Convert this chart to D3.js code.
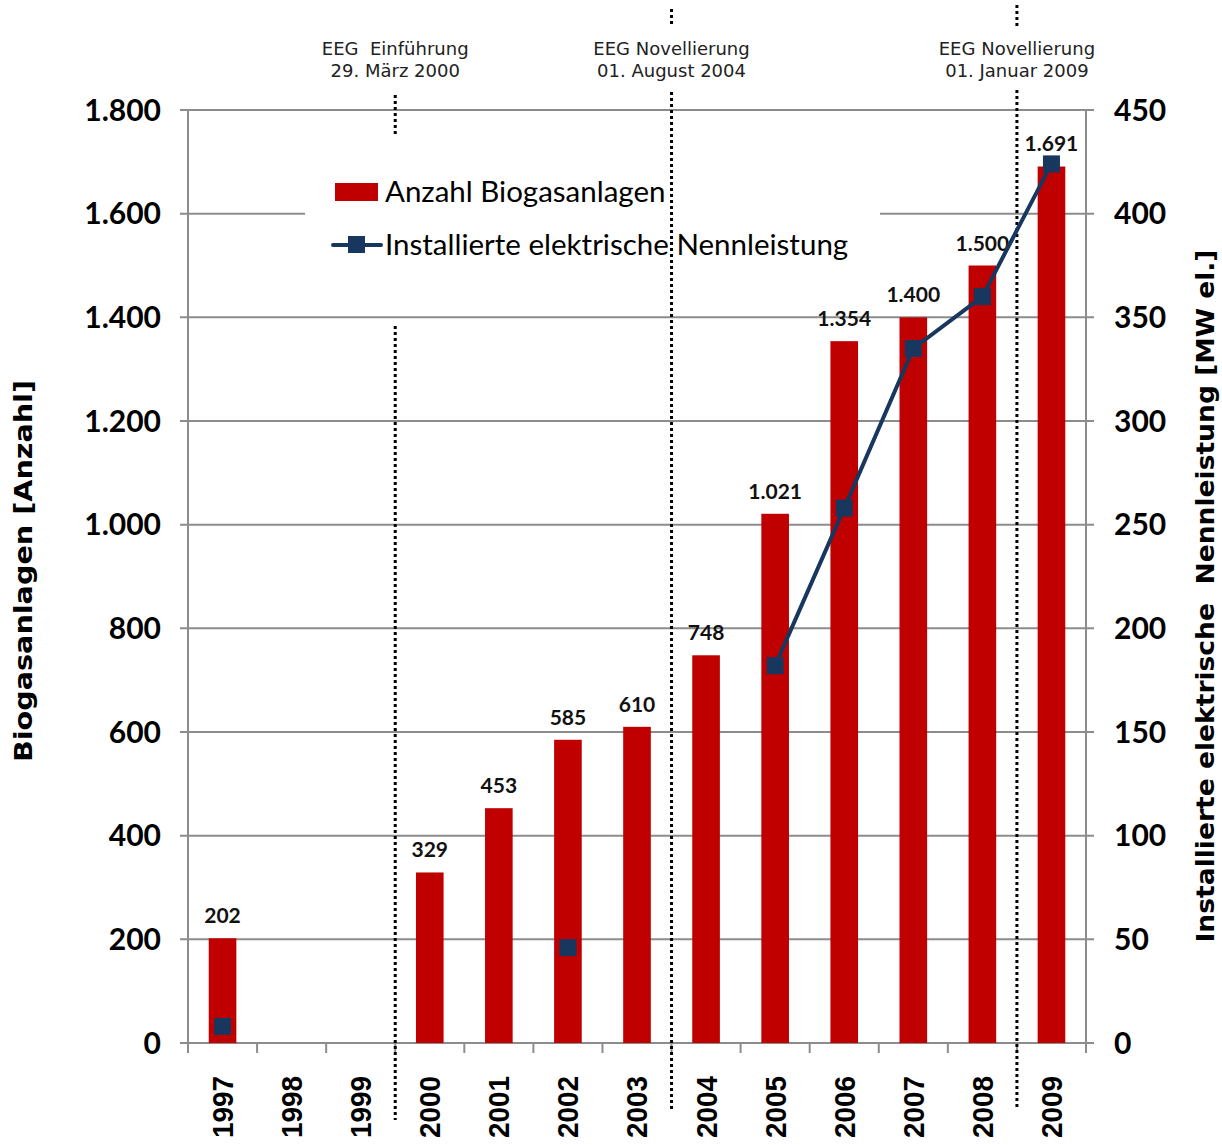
<!DOCTYPE html>
<html>
<head>
<meta charset="utf-8">
<script src="https://cdn.jsdelivr.net/npm/d3@7"></script>
<style>
  body { margin: 0; background: #fff; }
  svg { display: block; }
</style>
</head>
<body>
<svg id="chart" width="1222" height="1145"></svg>
<script>
// data
var years = ["1997","1998","1999","2000","2001","2002","2003","2004","2005","2006","2007","2008","2009"];
var anlagen = [202, null, null, 329, 453, 585, 610, 748, 1021, 1354, 1400, 1500, 1691];
var leistung = [8, null, null, null, null, 46, null, null, 182, 258, 335, 360, 424];
var leftTicks = [0, 200, 400, 600, 800, 1000, 1200, 1400, 1600, 1800];
var rightTicks = [0, 50, 100, 150, 200, 250, 300, 350, 400, 450];
var eegEvents = [
  {after: "1999", line1: "EEG  Einführung", line2: "29. März 2000"},
  {after: "2003", line1: "EEG Novellierung", line2: "01. August 2004"},
  {after: "2008", line1: "EEG Novellierung", line2: "01. Januar 2009"}
];

var pLeft = 188, pRight = 1086, pTop = 110, pBottom = 1043;
var svg = d3.select("#chart");
var fmt = function(v) { return d3.format(",")(v).replace(/,/g, "."); };

var x = d3.scaleBand().domain(years).range([pLeft, pRight]).paddingInner(0.6).paddingOuter(0.3);
var xb = d3.scaleBand().domain(years).range([pLeft, pRight]);
var yL = d3.scaleLinear().domain([0, 1800]).range([pBottom, pTop]);
var yR = d3.scaleLinear().domain([0, 450]).range([pBottom, pTop]);

// gridlines
svg.append("g").selectAll("line").data(leftTicks).enter().append("line")
  .attr("x1", pLeft - 8).attr("x2", pRight + 8)
  .attr("y1", function(d) { return yL(d); }).attr("y2", function(d) { return yL(d); })
  .attr("stroke", "#8c8c8c").attr("stroke-width", 2);

// axis lines
svg.append("line").attr("x1", pLeft).attr("x2", pLeft).attr("y1", pTop).attr("y2", pBottom)
  .attr("stroke", "#8c8c8c").attr("stroke-width", 2);
svg.append("line").attr("x1", pRight).attr("x2", pRight).attr("y1", pTop).attr("y2", pBottom)
  .attr("stroke", "#8c8c8c").attr("stroke-width", 2);
var bounds = years.map(function(y) { return xb(y); }).concat([pRight]);
svg.append("g").selectAll("line").data(bounds).enter().append("line")
  .attr("x1", function(d) { return d; }).attr("x2", function(d) { return d; })
  .attr("y1", pBottom).attr("y2", pBottom + 10)
  .attr("stroke", "#8c8c8c").attr("stroke-width", 2);

// dotted event lines
function evX(e) { return xb(e.after) + xb.bandwidth(); }
function dotted(sel, x0, y1, y2) {
  sel.append("line").attr("x1", x0).attr("x2", x0).attr("y1", y1).attr("y2", y2)
    .attr("stroke", "#000").attr("stroke-width", 3).attr("stroke-dasharray", "3,3");
}
dotted(svg, evX(eegEvents[0]), 95, 137);
dotted(svg, evX(eegEvents[0]), 326, 1120);

// legend box (covers the 1.600 gridline)
svg.append("rect").attr("x", 305).attr("y", 138).attr("width", 575).attr("height", 172).attr("fill", "#fff");

// bars
svg.append("g").selectAll("rect").data(years.filter(function(d, i) { return anlagen[i] != null; }))
  .enter().append("rect")
  .attr("x", function(d) { return x(d); })
  .attr("width", x.bandwidth())
  .attr("y", function(d) { return yL(anlagen[years.indexOf(d)]); })
  .attr("height", function(d) { return pBottom - yL(anlagen[years.indexOf(d)]); })
  .attr("fill", "#c00000");

dotted(svg, evX(eegEvents[1]), 92, 1112);
dotted(svg, evX(eegEvents[2]), 90, 1110);
dotted(svg, evX(eegEvents[1]), 9, 24);
dotted(svg, evX(eegEvents[2]), 5, 26);

// bar value labels
svg.append("g").selectAll("text").data(years.filter(function(d, i) { return anlagen[i] != null; }))
  .enter().append("text")
  .attr("x", function(d) { return x(d) + x.bandwidth() / 2; })
  .attr("y", function(d) { return yL(anlagen[years.indexOf(d)]) - 15; })
  .attr("text-anchor", "middle")
  .attr("font-family", "Lato, 'Open Sans', sans-serif").attr("font-weight", "bold").attr("font-size", 21)
  .attr("fill", "#111")
  .text(function(d) { return fmt(anlagen[years.indexOf(d)]); });

// line series
var pts = years.map(function(d, i) { return {year: d, v: leistung[i]}; });
var line = d3.line()
  .defined(function(d) { return d.v != null; })
  .x(function(d) { return x(d.year) + x.bandwidth() / 2; })
  .y(function(d) { return yR(d.v); });
svg.append("path").datum(pts).attr("d", line)
  .attr("fill", "none").attr("stroke", "#17375e").attr("stroke-width", 4);
svg.append("g").selectAll("rect").data(pts.filter(function(d) { return d.v != null; }))
  .enter().append("rect")
  .attr("x", function(d) { return x(d.year) + x.bandwidth() / 2 - 8.5; })
  .attr("y", function(d) { return yR(d.v) - 8.5; })
  .attr("width", 17).attr("height", 17)
  .attr("fill", "#17375e");

// tick labels
svg.append("g").selectAll("text").data(leftTicks).enter().append("text")
  .attr("x", 161).attr("y", function(d) { return yL(d); }).attr("dy", "0.36em")
  .attr("text-anchor", "end")
  .attr("font-family", "Lato, 'Open Sans', sans-serif").attr("font-weight", "bold").attr("font-size", 30)
  .attr("fill", "#000")
  .text(fmt);
svg.append("g").selectAll("text").data(rightTicks).enter().append("text")
  .attr("x", 1114).attr("y", function(d) { return yR(d); }).attr("dy", "0.36em")
  .attr("text-anchor", "start")
  .attr("font-family", "Lato, 'Open Sans', sans-serif").attr("font-weight", "bold").attr("font-size", 30)
  .attr("fill", "#000")
  .text(fmt);
svg.append("g").selectAll("text").data(years).enter().append("text")
  .attr("transform", function(d) { return "translate(" + (x(d) + x.bandwidth() / 2) + ",1076) rotate(-90)"; })
  .attr("dy", "0.36em")
  .attr("text-anchor", "end")
  .attr("font-family", "'Liberation Sans', Arial, sans-serif").attr("font-weight", "bold").attr("font-size", 29)
  .attr("textLength", 62).attr("lengthAdjust", "spacingAndGlyphs")
  .attr("fill", "#000")
  .text(function(d) { return d; });

// axis titles
svg.append("text")
  .attr("transform", "translate(32,571) rotate(-90)")
  .attr("text-anchor", "middle")
  .attr("font-family", "'DejaVu Sans', Verdana, sans-serif").attr("font-weight", "bold").attr("font-size", 25)
  .attr("textLength", 382).attr("lengthAdjust", "spacingAndGlyphs")
  .text("Biogasanlagen [Anzahl]");
svg.append("text")
  .attr("transform", "translate(1214,596) rotate(-90)")
  .attr("text-anchor", "middle")
  .attr("font-family", "'DejaVu Sans', Verdana, sans-serif").attr("font-weight", "bold").attr("font-size", 25)
  .attr("textLength", 693).attr("lengthAdjust", "spacingAndGlyphs")
  .attr("xml:space", "preserve")
  .text("Installierte elektrische  Nennleistung [MW el.]");

// event annotations
var ann = svg.append("g").selectAll("g").data(eegEvents).enter().append("g");
ann.append("text").attr("x", evX).attr("y", 55).attr("text-anchor", "middle")
  .attr("font-family", "'DejaVu Sans', Verdana, sans-serif").attr("font-size", 18)
  .attr("fill", "#222").attr("xml:space", "preserve")
  .text(function(d) { return d.line1; });
ann.append("text").attr("x", evX).attr("y", 77).attr("text-anchor", "middle")
  .attr("font-family", "'DejaVu Sans', Verdana, sans-serif").attr("font-size", 18)
  .attr("fill", "#222")
  .text(function(d) { return d.line2; });

// legend
var lg = svg.append("g");
lg.append("rect").attr("x", 335).attr("y", 183).attr("width", 43).attr("height", 18).attr("fill", "#c00000");
lg.append("text").attr("x", 385).attr("y", 202)
  .attr("font-family", "Lato, 'Open Sans', sans-serif").attr("font-size", 29.5).attr("fill", "#000")
  .text("Anzahl Biogasanlagen");
lg.append("line").attr("x1", 333).attr("x2", 381).attr("y1", 245).attr("y2", 245)
  .attr("stroke", "#17375e").attr("stroke-width", 4).attr("stroke-linecap", "round");
lg.append("rect").attr("x", 348).attr("y", 236).attr("width", 17).attr("height", 17).attr("fill", "#17375e");
lg.append("text").attr("x", 385).attr("y", 255)
  .attr("font-family", "Lato, 'Open Sans', sans-serif").attr("font-size", 29.5).attr("fill", "#000")
  .text("Installierte elektrische Nennleistung");
</script>
</body>
</html>
